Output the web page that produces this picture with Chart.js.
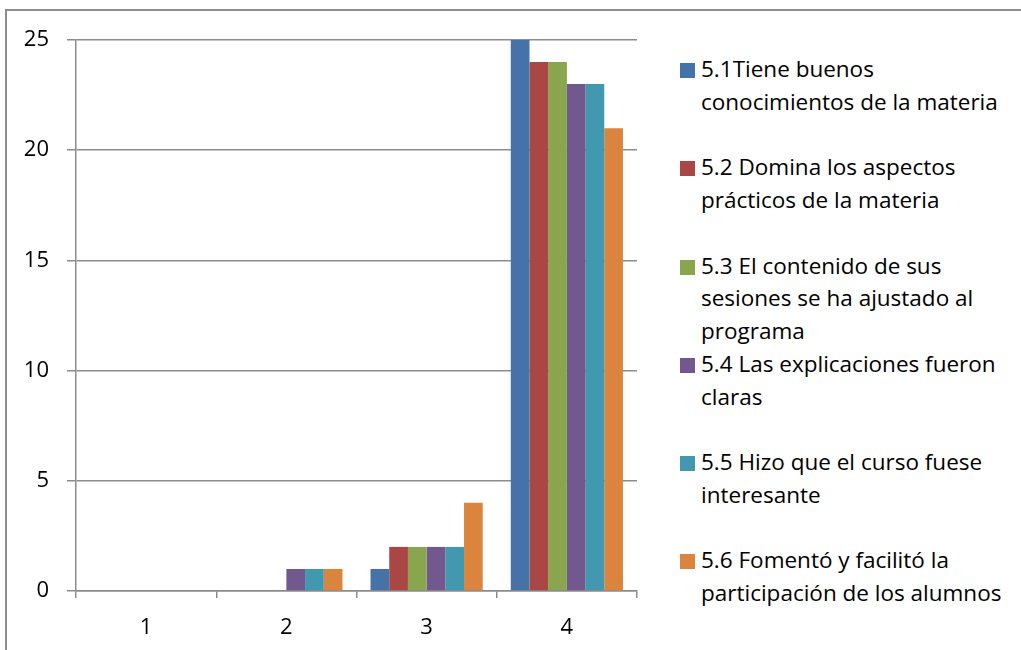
<!DOCTYPE html>
<html><head><meta charset="utf-8">
<script src="https://cdn.jsdelivr.net/npm/chart.js@4"></script>
<style>
html,body{margin:0;padding:0;background:#fff;}
#wrap{position:relative;width:1021px;height:650px;overflow:hidden;font-family:"Open Sans","Noto Sans",sans-serif;color:#000;}
#frame{position:absolute;left:5px;top:9px;width:1100px;height:700px;border-left:2px solid #8c8c8c;border-top:2px solid #8c8c8c;}
#cv{position:absolute;left:0;top:0;}
#legend{position:absolute;left:680px;top:53px;width:340px;}
.item{position:relative;height:98.3px;}
.sw{position:absolute;left:0;top:10px;width:15px;height:15px;}
.txt{position:absolute;left:21px;top:0;font-size:22.5px;line-height:32.8px;white-space:pre;}
</style></head>
<body>
<div id="wrap">
  <div id="frame"></div>
  <canvas id="cv" width="660" height="650"></canvas>
  <div id="legend"></div>
</div>
<script>
const categories = ['1', '2', '3', '4'];
const seriesNames = [
  '5.1Tiene buenos\nconocimientos de la materia',
  '5.2 Domina los aspectos\nprácticos de la materia',
  '5.3 El contenido de sus\nsesiones se ha ajustado al\nprograma',
  '5.4 Las explicaciones fueron\nclaras',
  '5.5 Hizo que el curso fuese\ninteresante',
  '5.6 Fomentó y facilitó la\nparticipación de los alumnos'
];
const s51 = [0, 0, 1, 25];
const s52 = [0, 0, 2, 24];
const s53 = [0, 0, 2, 24];
const s54 = [0, 1, 2, 23];
const s55 = [0, 1, 2, 23];
const s56 = [0, 1, 4, 21];
const seriesValues = [s51, s52, s53, s54, s55, s56];
const seriesColors = ['#4573A7', '#AA4643', '#89A54E', '#71588F', '#4198AF', '#DB843D'];
const yMin = 0, yMax = 25, yStep = 5;

const axisColor = '#8c8c8c';
const fontFamily = '"Open Sans", "Noto Sans", sans-serif';

const datasets = seriesValues.map((vals, i) => ({
  label: seriesNames[i].replace(/\n/g, ' '),
  data: vals,
  backgroundColor: seriesColors[i],
  borderWidth: 0,
  categoryPercentage: 0.8,
  barPercentage: 1.0
}));

const chart = new Chart(document.getElementById('cv'), {
  type: 'bar',
  data: { labels: categories, datasets },
  options: {
    responsive: false,
    animation: false,
    events: [],
    layout: { padding: { top: 40, right: 23, left: 0, bottom: 0 } },
    plugins: { legend: { display: false }, tooltip: { enabled: false } },
    scales: {
      x: {
        grid: { display: true, drawOnChartArea: false, drawTicks: true, tickLength: 7, color: axisColor, lineWidth: 1.5 },
        border: { display: true, color: axisColor, width: 1.5 },
        ticks: { color: '#000', font: { family: fontFamily, size: 22 }, padding: 17 },
        afterFit(scale) { scale.height = 59; scale.paddingLeft = 0; scale.paddingRight = 0; }
      },
      y: {
        min: yMin, max: yMax,
        grid: { color: axisColor, lineWidth: 1.5, tickLength: 9, drawTicks: true },
        border: { display: true, color: axisColor, width: 1.5 },
        ticks: { stepSize: yStep, color: '#000', font: { family: fontFamily, size: 22 }, padding: 18 },
        afterFit(scale) { scale.width = 76; scale.paddingTop = 0; scale.paddingBottom = 0; }
      }
    }
  }
});

const legend = document.getElementById('legend');
chart.data.datasets.forEach((ds, i) => {
  const item = document.createElement('div');
  item.className = 'item';
  const sw = document.createElement('div');
  sw.className = 'sw';
  sw.style.background = ds.backgroundColor;
  const txt = document.createElement('div');
  txt.className = 'txt';
  txt.textContent = seriesNames[i];
  item.appendChild(sw);
  item.appendChild(txt);
  legend.appendChild(item);
});
</script>
</body></html>
